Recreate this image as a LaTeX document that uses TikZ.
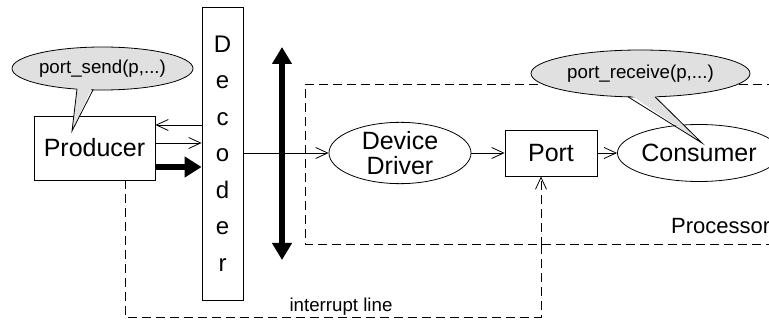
\documentclass[tikz,border=0pt]{standalone}
\usepackage{fontspec}
\setmainfont{Liberation Sans}
\usetikzlibrary{arrows.meta,shapes.geometric,calc}
\definecolor{bubblegray}{HTML}{E0E0E0}
\tikzset{
  base/.style={draw, line width=0.8pt, inner sep=0pt},
  boxnode/.style={base, rectangle},
  ovalnode/.style={base, ellipse},
  bigtext/.style={font=\fontsize{25}{25}\selectfont, align=center},
  smalltext/.style={font=\fontsize{18.7}{20}\selectfont},
  bubble/.style={base, ellipse, fill=bubblegray, font=\fontsize{18.7}{20}\selectfont},
  openarrow/.style={line width=0.8pt, -{Straight Barb[length=12pt,width=11pt,line width=0.8pt]}},
  thickarrow/.style={line width=5.5pt, -{Triangle[length=17pt,width=20pt]}},
  dbarrow/.style={line width=5.5pt, {Triangle[length=17pt,width=19pt]}-{Triangle[length=17pt,width=19pt]}},
  dashline/.style={line width=0.8pt, dash pattern=on 9pt off 5pt},
}
\begin{document}
\begin{tikzpicture}[x=1pt,y=-1pt]
\useasboundingbox (0,0) rectangle (769,323);
\clip (0,0) rectangle (769,323);
% processor dashed box
\draw[dashline] (790,84) -- (305,84) -- (305,244) -- (790,244);
\node[font=\fontsize{22}{22}\selectfont, anchor=west, inner sep=0pt] (proc) at (671,226) {Processor};
% nodes
\node[boxnode, minimum width=121pt, minimum height=64pt, bigtext] (producer) at (94.5,148) {Producer};
\node[boxnode, minimum width=41pt, minimum height=293pt, font=\fontsize{24}{36.5}\selectfont, align=center] (decoder) at (222.5,153.5) {D\\e\\c\\o\\d\\e\\r};
\node[ovalnode, minimum width=142pt, minimum height=58pt, bigtext] (dd) at (400,153) {Device\\Driver};
\node[boxnode, minimum width=92pt, minimum height=46pt, bigtext] (port) at (551,153) {Port};
\node[ovalnode, minimum width=140pt, minimum height=57pt, bigtext] (cons) at (699,153) {Consumer};
% connectors
\draw[openarrow] ([yshift=23pt]producer.east -| decoder.west) -- ([yshift=23pt]producer.east);
\draw[openarrow] ([yshift=5pt]producer.east) -- ([yshift=5pt]producer.east -| decoder.west);
\draw[thickarrow] ([yshift=-19pt]producer.east) -- ([yshift=-19pt]producer.east -| decoder.west);
\draw[openarrow] (decoder.east |- dd.west) -- (dd.west);
\draw[openarrow] (dd.east) -- (port.west);
\draw[openarrow] (port.east) -- (cons.west);
\coordinate (bustop) at (282,47);
\coordinate (busbot) at (282,260);
\draw[dbarrow] (bustop) -- (busbot);
% interrupt line
\coordinate (i1) at (125,317);
\coordinate (i2) at (541,317);
\draw[dashline] (i1 |- producer.south) -- (i1) -- (i2) -- (i2 |- 0,246);
\draw[openarrow, dashline] (i2 |- 0,246) -- (i2 |- port.south);
\node[smalltext, anchor=base] (intl) at (341,312) {interrupt line};
% bubbles
\node[bubble, minimum width=181pt, minimum height=43pt] (send) at (102.5,68.5) {port\_send(p,...)};
\fill[bubblegray] (77.3,86) -- (72,131) -- (92.7,86) -- cycle;
\draw[line width=0.8pt] (77,89.2) -- (72,131) -- (93,89.9);
\node[bubble, minimum width=219pt, minimum height=47pt] (recv) at (640.5,73.5) {port\_receive(p,...)};
\fill[bubblegray] (629,94) -- (702,143) -- (654,94) -- cycle;
\draw[line width=0.8pt] (628,96.8) -- (702,143) -- (655,96.8);
\end{tikzpicture}
\end{document}
